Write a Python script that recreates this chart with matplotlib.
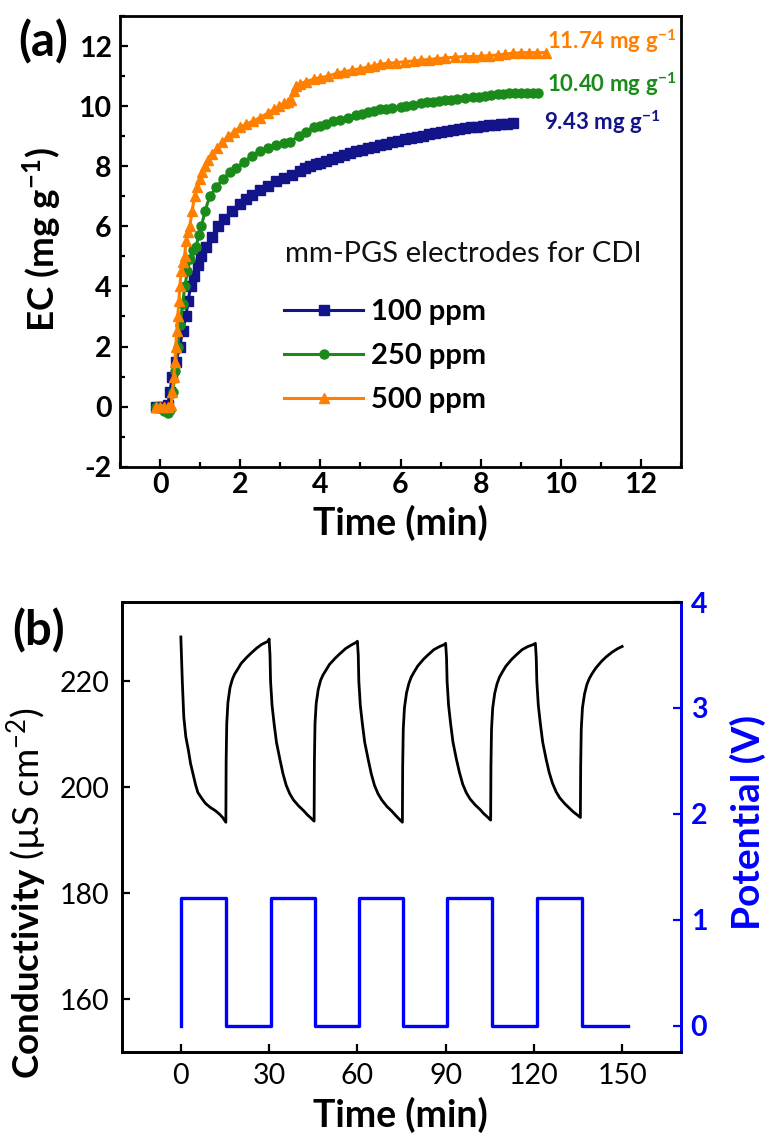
import matplotlib
matplotlib.use("Agg")
import matplotlib.pyplot as plt
from matplotlib.ticker import MultipleLocator

plt.rcParams['font.family'] = ['Lato', 'DejaVu Sans']
plt.rcParams['mathtext.fontset'] = 'custom'
plt.rcParams['mathtext.rm'] = 'Lato'
plt.rcParams['mathtext.bf'] = 'Lato:bold'
plt.rcParams['mathtext.it'] = 'Lato:italic'
plt.rcParams['axes.unicode_minus'] = False

# ---------------- Panel (a) data ----------------
t_100 = [-0.1, 0.0, 0.1, 0.19, 0.25, 0.3, 0.4, 0.49, 0.56, 0.64, 0.7, 0.76, 0.85, 0.95, 1.03,
         1.15, 1.3, 1.45, 1.6, 1.8, 2.0, 2.15, 2.3, 2.5, 2.7, 2.9, 3.1, 3.3, 3.5, 3.62,
         3.75, 3.9, 4.0, 4.15, 4.3, 4.45, 4.6, 4.75, 4.9, 5.05, 5.2, 5.35, 5.5, 5.65, 5.8,
         5.95, 6.1, 6.25, 6.4, 6.55, 6.7, 6.85, 7.0, 7.15, 7.3, 7.45, 7.6, 7.75, 7.9, 8.05,
         8.2, 8.35, 8.5, 8.65, 8.8]
ec_100 = [0, 0, 0, 0.05, 0.5, 1.0, 1.5, 2.0, 2.5, 3.0, 3.5, 4.0, 4.35, 4.7, 5.0,
          5.3, 5.65, 6.0, 6.25, 6.5, 6.75, 6.9, 7.05, 7.2, 7.35, 7.5, 7.6, 7.72, 7.85, 7.93,
          8.0, 8.06, 8.1, 8.18, 8.25, 8.32, 8.38, 8.44, 8.5, 8.55, 8.6, 8.65, 8.7, 8.75, 8.8,
          8.85, 8.9, 8.94, 8.98, 9.02, 9.06, 9.1, 9.13, 9.17, 9.2, 9.23, 9.26, 9.29, 9.31, 9.34,
          9.36, 9.38, 9.4, 9.42, 9.43]

t_250 = [-0.1, 0.0, 0.1, 0.2, 0.26, 0.32, 0.38, 0.44, 0.5, 0.56, 0.62, 0.68, 0.75, 0.82, 0.9,
         0.96, 1.03, 1.12, 1.24, 1.4, 1.56, 1.75, 1.9, 2.1, 2.3, 2.5, 2.7, 2.9, 3.1, 3.25,
         3.46, 3.65, 3.84, 4.0, 4.15, 4.32, 4.5, 4.7, 4.9, 5.05, 5.18, 5.35, 5.5, 5.65, 5.8,
         6.0, 6.14, 6.3, 6.5, 6.65, 6.8, 6.95, 7.1, 7.25, 7.4, 7.6, 7.8, 7.95, 8.1, 8.25,
         8.43, 8.55, 8.7, 8.85, 9.0, 9.15, 9.3, 9.44]
ec_250 = [0, -0.05, -0.15, -0.2, -0.1, 0.5, 1.2, 2.0, 2.7, 3.4, 4.0, 4.5, 4.9, 5.2, 5.3,
          5.7, 6.0, 6.5, 7.0, 7.3, 7.56, 7.8, 7.95, 8.15, 8.35, 8.5, 8.6, 8.7, 8.78, 8.82,
          9.0, 9.15, 9.3, 9.35, 9.4, 9.5, 9.55, 9.62, 9.7, 9.75, 9.8, 9.85, 9.9, 9.92, 9.95,
          9.98, 10.0, 10.05, 10.1, 10.13, 10.15, 10.18, 10.2, 10.22, 10.25, 10.28, 10.3, 10.32, 10.35, 10.38,
          10.4, 10.42, 10.43, 10.45, 10.45, 10.45, 10.44, 10.43]

t_500 = [-0.1, 0.0, 0.1, 0.2, 0.28, 0.31, 0.34, 0.37, 0.39, 0.42, 0.44, 0.47, 0.49, 0.53, 0.57,
         0.61, 0.65, 0.7, 0.74, 0.8, 0.86, 0.93, 0.99, 1.05, 1.12, 1.2, 1.3, 1.42, 1.55, 1.7,
         1.85, 2.0, 2.15, 2.31, 2.5, 2.7, 2.85, 2.98, 3.1, 3.2, 3.27, 3.33, 3.4, 3.5, 3.65,
         3.84, 4.0, 4.2, 4.42, 4.6, 4.8, 5.0, 5.18, 5.35, 5.5, 5.7, 5.9, 6.1, 6.33, 6.5,
         6.7, 6.9, 7.1, 7.35, 7.6, 7.8, 8.0, 8.2, 8.43, 8.6, 8.8, 9.0, 9.2, 9.4, 9.63]
ec_500 = [0, 0, 0, 0, 0.05, 0.5, 1.0, 1.5, 2.0, 2.5, 3.0, 3.5, 4.0, 4.5, 4.8,
          5.0, 5.5, 5.8, 6.0, 6.5, 7.0, 7.3, 7.56, 7.8, 8.0, 8.2, 8.4, 8.6, 8.8, 9.0,
          9.15, 9.3, 9.4, 9.5, 9.62, 9.78, 9.9, 10.0, 10.1, 10.15, 10.2, 10.5, 10.68, 10.75, 10.82,
          10.9, 10.95, 11.0, 11.1, 11.15, 11.2, 11.25, 11.3, 11.35, 11.4, 11.43, 11.45, 11.48, 11.5, 11.53,
          11.55, 11.58, 11.6, 11.63, 11.65, 11.65, 11.66, 11.68, 11.7, 11.73, 11.76, 11.78, 11.78, 11.78, 11.78]

series_labels = ['100 ppm', '250 ppm', '500 ppm']
final_labels = ['9.43', '10.40', '11.74']

# ---------------- Panel (b) data ----------------
cond_t = [0, 0.3, 0.5, 1.0, 1.7, 2.5, 3.3, 4.2, 5.0, 5.8, 7.0, 8.3, 10.0, 11.7, 13.0, 14.2, 15.3,
          15.4, 15.6, 16.0, 16.7, 17.5, 18.3, 19.2, 20.5, 22.5, 24.0, 25.8, 27.5, 29.7, 30.0,
          30.3, 30.5, 31.0, 31.7, 32.5, 33.7, 34.7, 35.8, 37.0, 38.3, 40.0, 41.7, 43.0, 44.2, 45.3,
          45.4, 45.6, 46.0, 46.7, 47.5, 48.3, 49.2, 50.5, 52.5, 54.0, 56.0, 58.0, 59.7, 60.0,
          60.3, 60.5, 61.0, 61.7, 62.5, 63.7, 64.7, 65.8, 67.0, 68.3, 70.0, 71.7, 73.0, 74.2, 75.3,
          75.4, 75.6, 76.0, 76.7, 77.5, 78.3, 79.2, 80.5, 82.5, 84.0, 86.0, 88.0, 89.7, 90.0,
          90.3, 90.5, 91.0, 91.7, 92.5, 93.7, 94.7, 95.8, 97.0, 98.3, 100.0, 101.7, 103.0, 104.2, 105.3,
          105.4, 105.6, 106.0, 106.7, 107.5, 108.3, 109.2, 110.5, 112.5, 114.0, 116.0, 118.0, 120.0, 120.5,
          120.8, 121.0, 121.5, 122.2, 123.0, 124.2, 125.2, 126.3, 127.5, 128.8, 130.5, 132.2, 133.5, 134.7, 135.8,
          135.9, 136.1, 136.5, 137.2, 138.0, 138.8, 139.7, 141.0, 143.0, 144.5, 146.5, 148.5, 150.0]
cond_v = [228.4, 223, 220, 213.3, 209.5, 207.2, 204.5, 202.4, 200.5, 199.0, 198.0, 197.0, 196.2, 195.6, 195.0, 194.3, 193.4,
          205, 212, 216, 218.8, 220.4, 221.4, 222.2, 223.4, 224.6, 225.4, 226.3, 227.0, 227.6, 228.0,
          225, 220, 215.5, 212, 208.5, 205.2, 202.6, 200.4, 198.8, 197.6, 196.5, 195.6, 194.8, 194.2, 193.6,
          205, 212, 215.8, 218.5, 220.2, 221.2, 222.0, 223.2, 224.4, 225.2, 226.2, 226.9, 227.4, 227.6,
          225, 220, 215.5, 212, 208.5, 205.2, 202.6, 200.4, 198.8, 197.6, 196.4, 195.5, 194.7, 194.0, 193.4,
          204, 211, 215, 217.8, 219.6, 220.8, 221.7, 222.9, 224.2, 225.0, 226.0, 226.6, 227.0, 227.2,
          224.5, 220, 215.5, 212, 208.5, 205.2, 202.8, 200.6, 199.0, 197.8, 196.7, 195.8, 195.0, 194.4, 193.8,
          204, 211, 215, 217.8, 219.6, 220.8, 221.7, 222.9, 224.2, 225.0, 226.0, 226.6, 227.0, 227.2,
          224.5, 220, 215.5, 212, 208.5, 205.2, 202.8, 200.8, 199.2, 198.0, 196.9, 196.0, 195.3, 194.8, 194.3,
          204, 211, 215, 217.6, 219.4, 220.5, 221.4, 222.5, 223.8, 224.6, 225.5, 226.2, 226.6]

pot_t = [0, 0, 15.3, 15.3, 30.6, 30.6, 45.5, 45.5, 60.6, 60.6, 75.5, 75.5, 90.6, 90.6,
         105.6, 105.6, 121.0, 121.0, 136.2, 136.2, 152.0]
pot_v = [0, 1.2, 1.2, 0, 0, 1.2, 1.2, 0, 0, 1.2, 1.2, 0, 0, 1.2,
         1.2, 0, 0, 1.2, 1.2, 0, 0]

# ---------------- Styling ----------------
NAVY = '#14148a'
GREEN = '#1a8a1a'
ORANGE = '#ff8000'
BLUE = '#0000ff'

W, H = 766, 1145
fig = plt.figure(figsize=(W / 100, H / 100), dpi=100)

def px_axes(l, t, r, b):
    return [l / W, 1 - b / H, (r - l) / W, (b - t) / H]

# ---------------- Panel (a) ----------------
ax = fig.add_axes(px_axes(120, 16, 681, 466.7))
ax.plot(t_100, ec_100, color=NAVY, marker='s', ms=6.5, lw=2.2, label=series_labels[0])
ax.plot(t_250, ec_250, color=GREEN, marker='o', ms=6.5, lw=2.2, label=series_labels[1])
ax.plot(t_500, ec_500, color=ORANGE, marker='^', ms=7.5, lw=2.2, label=series_labels[2])
ax.set_xlim(-1, 13)
ax.set_ylim(-2, 13)
ax.xaxis.set_major_locator(MultipleLocator(2))
ax.xaxis.set_minor_locator(MultipleLocator(1))
ax.yaxis.set_major_locator(MultipleLocator(2))
ax.yaxis.set_minor_locator(MultipleLocator(1))
ax.tick_params(which='both', direction='in', top=False, right=False, width=1.6)
ax.tick_params(which='major', length=6)
ax.tick_params(which='minor', length=3.5)
ax.tick_params(axis='x', which='major', pad=4)
ax.tick_params(axis='y', which='major', pad=6)
for lab in ax.get_xticklabels() + ax.get_yticklabels():
    lab.set_fontsize(20.5)
    lab.set_fontweight('bold')
for s in ax.spines.values():
    s.set_linewidth(2.0)

for x, y, txt, c in [(9.57, 9.45, final_labels[0], NAVY),
                     (9.65, 10.72, final_labels[1], GREEN),
                     (9.65, 12.17, final_labels[2], ORANGE)]:
    ax.text(x, y, txt + r' mg g$^{\mathbf{-1}}$', color=c, fontsize=16, fontweight='bold',
            ha='left', va='center')

ax.text(0.295, 0.4726, 'mm-PGS electrodes for CDI', transform=ax.transAxes,
        fontsize=21, ha='left', va='center', color='#111111')
leg = ax.legend(loc='upper left', bbox_to_anchor=(0.293, 0.372), frameon=False,
                numpoints=1, handlelength=2.7, handletextpad=0.28, labelspacing=0.62,
                borderpad=0, borderaxespad=0, prop={'weight': 'bold', 'size': 21})

fig.text(43 / W, 1 - 42 / H, '(a)', fontsize=34, fontweight='bold', ha='center', va='center')
fig.text(42 / W, 1 - 240 / H, r'EC (mg g$^{\mathbf{-1}}$)', fontsize=26.5, fontweight='bold',
         rotation=90, ha='center', va='center')
fig.text(400 / W, 1 - 523 / H, 'Time (min)', fontsize=27, fontweight='bold', ha='center', va='center')

# ---------------- Panel (b) ----------------
bx = fig.add_axes(px_axes(122, 602, 681, 1052))
bx.plot(cond_t, cond_v, color='black', lw=2.0)
bx.set_xlim(-20, 170)
bx.set_ylim(150, 235)
bx.set_xticks([0, 30, 60, 90, 120, 150])
bx.set_yticks([160, 180, 200, 220])
bx.tick_params(direction='in', top=False, right=False, width=1.6, length=6)
bx.tick_params(axis='x', pad=8)
bx.tick_params(axis='y', pad=9)
for lab in bx.get_xticklabels() + bx.get_yticklabels():
    lab.set_fontsize(20.5)
for s in bx.spines.values():
    s.set_linewidth(2.0)

px = bx.twinx()
px.plot(pot_t, pot_v, color=BLUE, lw=2.4)
px.set_ylim(-0.25, 4)
px.set_yticks([0, 1, 2, 3, 4])
px.tick_params(axis='y', direction='in', colors=BLUE, width=1.6, length=6, pad=7)
for lab in px.get_yticklabels():
    lab.set_fontsize(20.5)
    lab.set_fontweight('bold')
for name, s in px.spines.items():
    s.set_linewidth(2.0)
px.spines['right'].set_color(BLUE)

fig.text(39 / W, 1 - 631 / H, '(b)', fontsize=34, fontweight='bold', ha='center', va='center')
fig.text(27 / W, 1 - 893 / H, r'$\mathbf{Conductivity}$ (µS cm$^{-2}$)', fontsize=26.5,
         rotation=90, ha='center', va='center')
fig.text(400 / W, 1 - 1115 / H, 'Time (min)', fontsize=27, fontweight='bold', ha='center', va='center')
fig.text(748 / W, 1 - 822 / H, 'Potential (V)', fontsize=28, fontweight='bold', color=BLUE,
         rotation=90, ha='center', va='center')

fig.savefig('out.png', dpi=100)
